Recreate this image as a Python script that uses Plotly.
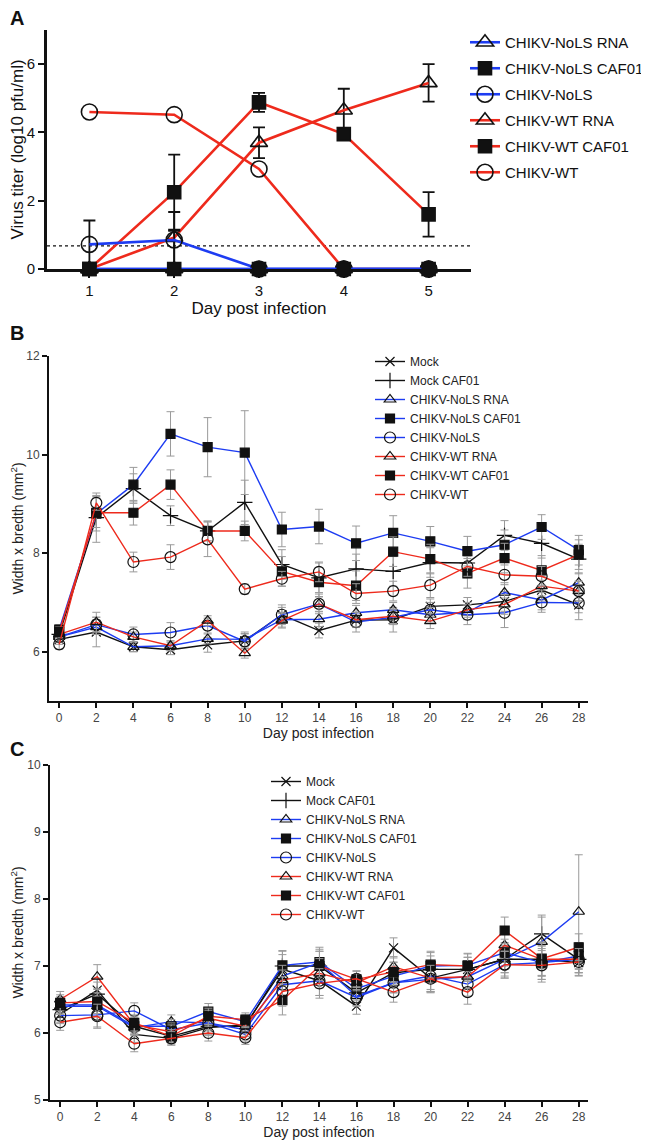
import plotly.graph_objects as go

# ---------------- Panel A data ----------------
days_a = [1, 2, 3, 4, 5]
a_names = ["CHIKV-NoLS RNA", "CHIKV-NoLS CAF01", "CHIKV-NoLS",
           "CHIKV-WT RNA", "CHIKV-WT CAF01", "CHIKV-WT"]
a_nols_rna = [0, 0, 0, 0, 0]
a_nols_caf = [0, 0, 0, 0, 0]
a_nols = [0.72, 0.85, 0, 0, 0]
a_wt_rna = [0, 0.92, 3.7, 4.65, 5.45]
a_wt_caf = [0, 2.25, 4.88, 3.95, 1.6]
a_wt = [4.6, 4.52, 2.93, 0, 0]
a_nols_err_p = [0.7, 0.27, 0, 0, 0]
a_nols_err_m = [0.72, 0.85, 0, 0, 0]
a_wt_rna_err = [0, 0.75, 0.45, 0.63, 0.55]
a_wt_caf_err = [0, 1.1, 0.28, 0.1, 0.65]
lod = 0.68

# ---------------- Panels B / C data ----------------
days = [0, 2, 4, 6, 8, 10, 12, 14, 16, 18, 20, 22, 24, 26, 28]
bc_names = ["Mock", "Mock CAF01", "CHIKV-NoLS RNA", "CHIKV-NoLS CAF01",
            "CHIKV-NoLS", "CHIKV-WT RNA", "CHIKV-WT CAF01", "CHIKV-WT"]

b_mock = [6.25, 6.4, 6.1, 6.04, 6.14, 6.22, 6.75, 6.43, 6.64, 6.65, 6.92, 6.95, 7.02, 7.25, 6.95]
b_mock_caf = [6.35, 8.72, 9.31, 8.76, 8.45, 9.03, 7.77, 7.5, 7.68, 7.63, 7.81, 7.8, 8.36, 8.2, 7.88]
b_nols_rna = [6.3, 6.5, 6.1, 6.12, 6.26, 6.25, 6.65, 6.66, 6.79, 6.85, 6.75, 6.8, 7.2, 7.05, 7.4]
b_nols_caf = [6.45, 8.8, 9.39, 10.42, 10.15, 10.04, 8.48, 8.54, 8.2, 8.41, 8.24, 8.04, 8.17, 8.53, 8.06]
b_nols = [6.3, 6.55, 6.35, 6.39, 6.53, 6.21, 6.75, 6.97, 6.6, 6.7, 6.85, 6.75, 6.79, 7.0, 6.99]
b_wt_rna = [6.35, 6.6, 6.3, 6.12, 6.63, 5.97, 6.63, 6.97, 6.65, 6.72, 6.62, 6.85, 6.96, 7.33, 7.23]
b_wt_caf = [6.4, 8.82, 8.82, 9.39, 8.45, 8.45, 7.63, 7.41, 7.34, 8.03, 7.88, 7.59, 7.9, 7.65, 7.97]
b_wt = [6.15, 9.02, 7.82, 7.92, 8.28, 7.27, 7.48, 7.62, 7.18, 7.23, 7.35, 7.73, 7.56, 7.53, 7.23]

b_mock_e = [0.1, 0.3, 0.1, 0.1, 0.15, 0.15, 0.15, 0.15, 0.15, 0.25, 0.15, 0.15, 0.2, 0.2, 0.3]
b_mock_caf_e = [0.1, 0.5, 0.3, 0.2, 0.2, 0.45, 0.3, 0.3, 0.3, 0.3, 0.3, 0.3, 0.3, 0.3, 0.3]
b_nols_rna_e = [0.1, 0.15, 0.1, 0.1, 0.1, 0.15, 0.15, 0.15, 0.15, 0.15, 0.15, 0.15, 0.2, 0.2, 0.2]
b_nols_caf_e = [0.1, 0.35, 0.35, 0.45, 0.6, 0.85, 0.35, 0.35, 0.35, 0.35, 0.3, 0.3, 0.3, 0.25, 0.3]
b_nols_e = [0.1, 0.15, 0.15, 0.2, 0.15, 0.15, 0.2, 0.2, 0.2, 0.15, 0.15, 0.2, 0.3, 0.2, 0.2]
b_wt_rna_e = [0.1, 0.2, 0.1, 0.1, 0.1, 0.1, 0.15, 0.15, 0.15, 0.15, 0.15, 0.15, 0.2, 0.2, 0.2]
b_wt_caf_e = [0.1, 0.3, 0.25, 0.3, 0.2, 0.2, 0.3, 0.3, 0.3, 0.3, 0.3, 0.3, 0.3, 0.3, 0.3]
b_wt_e = [0.1, 0.15, 0.2, 0.25, 0.35, 0.1, 0.15, 0.2, 0.2, 0.2, 0.25, 0.2, 0.2, 0.2, 0.2]

c_mock = [6.28, 6.64, 5.98, 5.92, 6.08, 6.12, 6.95, 6.78, 6.4, 7.27, 6.82, 6.95, 7.1, 7.1, 7.05]
c_mock_caf = [6.35, 6.58, 6.1, 5.95, 6.1, 6.1, 7.0, 7.0, 6.6, 6.9, 6.95, 6.95, 7.1, 7.48, 7.1]
c_nols_rna = [6.4, 6.4, 6.08, 6.17, 6.15, 6.05, 6.85, 7.05, 6.55, 6.75, 6.8, 6.84, 7.1, 7.36, 7.81]
c_nols_caf = [6.42, 6.42, 6.1, 6.1, 6.32, 6.17, 7.01, 7.06, 6.66, 6.85, 7.0, 7.01, 7.2, 7.05, 7.15]
c_nols = [6.26, 6.27, 6.33, 6.05, 6.15, 5.98, 6.72, 6.78, 6.53, 6.75, 6.85, 6.73, 7.02, 7.05, 7.1]
c_wt_rna = [6.5, 6.84, 6.12, 6.02, 6.22, 6.1, 6.79, 6.89, 6.75, 6.99, 6.82, 6.84, 7.31, 7.1, 7.1]
c_wt_caf = [6.45, 6.47, 6.15, 5.95, 6.25, 6.2, 6.49, 7.0, 6.8, 6.91, 7.02, 7.0, 7.53, 7.11, 7.28]
c_wt = [6.16, 6.25, 5.84, 5.92, 6.0, 5.93, 6.62, 6.74, 6.81, 6.61, 6.81, 6.61, 7.02, 7.01, 7.06]

c_err = [0.12, 0.18, 0.12, 0.1, 0.12, 0.1, 0.22, 0.22, 0.12, 0.15, 0.2, 0.18, 0.2, 0.25, 0.2]
c_nols_rna_e = [0.12, 0.15, 0.1, 0.1, 0.1, 0.1, 0.2, 0.2, 0.15, 0.15, 0.2, 0.18, 0.25, 0.4, 0.85]

RED = "#ee2a1c"
BLUE = "#1d3cf2"
BLACK = "#111111"
FONT = "Liberation Sans, Arial, sans-serif"

W, H = 649, 1141
OX, OY = 8, 8   # page body offset of the plot div


def px(x):
    return (x - OX) / W


def py(y):
    return 1 - (y - OY) / H


fig = go.Figure()

# ---------- Panel A ----------
a_style = {
    "CHIKV-NoLS RNA": (BLUE, "triangle-up-open", 15),
    "CHIKV-NoLS CAF01": (BLUE, "square", 13),
    "CHIKV-NoLS": (BLUE, "circle-open", 16),
    "CHIKV-WT RNA": (RED, "triangle-up-open", 15),
    "CHIKV-WT CAF01": (RED, "square", 13),
    "CHIKV-WT": (RED, "circle-open", 16),
}
a_vals = {
    "CHIKV-NoLS RNA": (a_nols_rna, None, None),
    "CHIKV-NoLS CAF01": (a_nols_caf, None, None),
    "CHIKV-NoLS": (a_nols, a_nols_err_p, a_nols_err_m),
    "CHIKV-WT RNA": (a_wt_rna, a_wt_rna_err, a_wt_rna_err),
    "CHIKV-WT CAF01": (a_wt_caf, a_wt_caf_err, a_wt_caf_err),
    "CHIKV-WT": (a_wt, None, None),
}
draw_order_a = ["CHIKV-WT RNA", "CHIKV-WT CAF01", "CHIKV-WT",
                "CHIKV-NoLS", "CHIKV-NoLS RNA", "CHIKV-NoLS CAF01"]
for name in draw_order_a:
    col, sym, sz = a_style[name]
    vals, ep, em = a_vals[name]
    err = None
    if ep is not None:
        err = dict(type="data", symmetric=False, array=ep, arrayminus=em,
                   color=BLACK, thickness=1.8, width=6)
    fig.add_trace(go.Scatter(
        x=days_a, y=vals, name=name, mode="lines+markers",
        line=dict(color=col, width=2.6),
        marker=dict(symbol=sym, size=sz, color=BLACK, line=dict(color=BLACK, width=1.6)),
        error_y=err, xaxis="x", yaxis="y", legend="legend",
        legendgroup="a" + name, legendrank=a_names.index(name) + 1, cliponaxis=False,
    ))

# ---------- Panels B, C ----------
bc_style = {
    "Mock": (BLACK, "x-thin-open", 9),
    "Mock CAF01": (BLACK, "cross-thin-open", 11),
    "CHIKV-NoLS RNA": (BLUE, "triangle-up-open", 10),
    "CHIKV-NoLS CAF01": (BLUE, "square", 9),
    "CHIKV-NoLS": (BLUE, "circle-open", 11),
    "CHIKV-WT RNA": (RED, "triangle-up-open", 10),
    "CHIKV-WT CAF01": (RED, "square", 9),
    "CHIKV-WT": (RED, "circle-open", 11),
}
b_vals = {
    "Mock": (b_mock, b_mock_e), "Mock CAF01": (b_mock_caf, b_mock_caf_e),
    "CHIKV-NoLS RNA": (b_nols_rna, b_nols_rna_e), "CHIKV-NoLS CAF01": (b_nols_caf, b_nols_caf_e),
    "CHIKV-NoLS": (b_nols, b_nols_e), "CHIKV-WT RNA": (b_wt_rna, b_wt_rna_e),
    "CHIKV-WT CAF01": (b_wt_caf, b_wt_caf_e), "CHIKV-WT": (b_wt, b_wt_e),
}
c_vals = {
    "Mock": (c_mock, c_err), "Mock CAF01": (c_mock_caf, c_err),
    "CHIKV-NoLS RNA": (c_nols_rna, c_nols_rna_e), "CHIKV-NoLS CAF01": (c_nols_caf, c_err),
    "CHIKV-NoLS": (c_nols, c_err), "CHIKV-WT RNA": (c_wt_rna, c_err),
    "CHIKV-WT CAF01": (c_wt_caf, c_err), "CHIKV-WT": (c_wt, c_err),
}
for vals_map, xa, ya, leg in [(b_vals, "x2", "y2", "legend2"), (c_vals, "x3", "y3", "legend3")]:
    for i, name in enumerate(bc_names):
        col, sym, sz = bc_style[name]
        vals, e = vals_map[name]
        fig.add_trace(go.Scatter(
            x=days, y=vals, name=name, mode="lines+markers",
            line=dict(color=col, width=1.4),
            marker=dict(symbol=sym, size=sz, color=BLACK, line=dict(color=BLACK, width=1.2)),
            error_y=dict(type="data", array=e, color="#9a9a9a", thickness=1, width=4),
            xaxis=xa, yaxis=ya, legend=leg, legendgroup=leg + str(i),
            cliponaxis=False,
        ))

# Limit of detection line (panel A)
fig.add_shape(type="line", xref="x domain", yref="y", x0=0, x1=1, y0=lod, y1=lod,
              line=dict(color=BLACK, width=1.2, dash="dot"), layer="below")

axis_common = dict(showgrid=False, zeroline=False, showline=True, linecolor=BLACK,
                   ticks="outside", tickcolor=BLACK, automargin=False,
                   layer="below traces")

fig.update_layout(
    width=W, height=H, margin=dict(l=0, r=0, t=0, b=0, autoexpand=False),
    paper_bgcolor="white", plot_bgcolor="white",
    font=dict(family=FONT, color="#222222"),
    xaxis=dict(**axis_common, domain=[px(47), px(471)], range=[0.5, 5.5],
               tickvals=days_a, linewidth=2.6, tickwidth=2.2, ticklen=6,
               tickfont=dict(size=15, color=BLACK), anchor="y",
               title=dict(text="Day post infection", font=dict(size=17, color=BLACK), standoff=4)),
    yaxis=dict(**axis_common, domain=[py(269), py(30)], range=[0, 7],
               tickvals=[0, 2, 4, 6], linewidth=2.6, tickwidth=2.2, ticklen=6,
               tickfont=dict(size=15, color=BLACK), anchor="x",
               title=dict(text="Virus titer (log10 pfu/ml)", font=dict(size=17, color=BLACK), standoff=8)),
    xaxis2=dict(**axis_common, domain=[px(49), px(588)], range=[-0.55, 28.5],
                tickvals=days, linewidth=2, tickwidth=1.5, ticklen=5,
                tickfont=dict(size=12, color="#444444"), anchor="y2",
                title=dict(text="Day post infection", font=dict(size=14, color="#222222"), standoff=2)),
    yaxis2=dict(**axis_common, domain=[py(701), py(356)], range=[5, 12],
                tickvals=[6, 8, 10, 12], linewidth=2, tickwidth=1.5, ticklen=5,
                tickfont=dict(size=12, color="#444444"), anchor="x2",
                title=dict(text="Width x bredth (mm<sup>2</sup>)", font=dict(size=14, color="#222222"), standoff=8)),
    xaxis3=dict(**axis_common, domain=[px(50), px(588)], range=[-0.55, 28.5],
                tickvals=days, linewidth=2, tickwidth=1.5, ticklen=5,
                tickfont=dict(size=12, color="#444444"), anchor="y3",
                title=dict(text="Day post infection", font=dict(size=14, color="#222222"), standoff=2)),
    yaxis3=dict(**axis_common, domain=[py(1100), py(765)], range=[5, 10],
                tickvals=[5, 6, 7, 8, 9, 10], linewidth=2, tickwidth=1.5, ticklen=5,
                tickfont=dict(size=12, color="#444444"), anchor="x3",
                title=dict(text="Width x bredth (mm<sup>2</sup>)", font=dict(size=14, color="#222222"), standoff=8)),
    legend=dict(x=px(465), y=py(26), xanchor="left", yanchor="top",
                font=dict(size=15, color=BLACK), bgcolor="rgba(0,0,0,0)",
                tracegroupgap=3.5, traceorder="grouped"),
    legend2=dict(x=px(370), y=py(347), xanchor="left", yanchor="top",
                 font=dict(size=12, color="#222222"), bgcolor="rgba(0,0,0,0)",
                 tracegroupgap=0, traceorder="grouped"),
    legend3=dict(x=px(266), y=py(767), xanchor="left", yanchor="top",
                 font=dict(size=12, color="#222222"), bgcolor="rgba(0,0,0,0)",
                 tracegroupgap=0, traceorder="grouped"),
    showlegend=True,
    annotations=[
        dict(text="<b>A</b>", x=px(8), y=py(5), xref="paper", yref="paper",
             xanchor="left", yanchor="top", showarrow=False, font=dict(size=20, color=BLACK)),
        dict(text="<b>B</b>", x=px(8), y=py(320), xref="paper", yref="paper",
             xanchor="left", yanchor="top", showarrow=False, font=dict(size=20, color=BLACK)),
        dict(text="<b>C</b>", x=px(8), y=py(736), xref="paper", yref="paper",
             xanchor="left", yanchor="top", showarrow=False, font=dict(size=20, color=BLACK)),
    ],
)

fig.write_html("out.html")
